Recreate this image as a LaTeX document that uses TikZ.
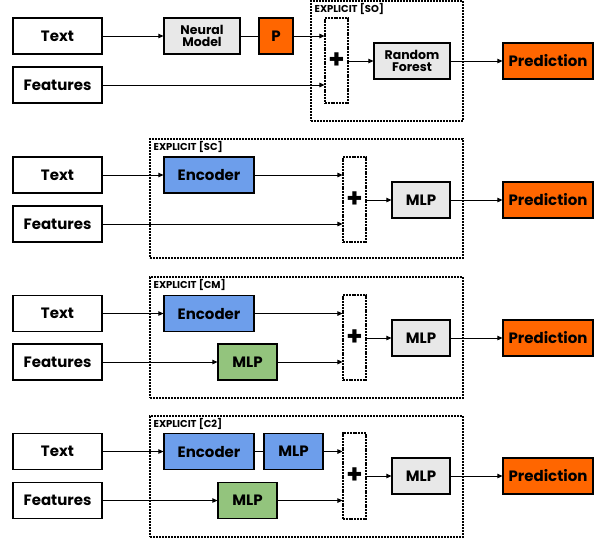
\documentclass[tikz,border=0pt]{standalone}
\usepackage{fontspec}
\setmainfont{Poppins}
\usetikzlibrary{arrows.meta}
\definecolor{orng}{HTML}{FF6600}
\definecolor{blu}{HTML}{6D9EEB}
\definecolor{grn}{HTML}{93C47D}
\definecolor{gry}{HTML}{E8E8E8}
\begin{document}
\begin{tikzpicture}[x=1pt,y=-1pt,
  box/.style={draw, line width=1.2pt, inner sep=0pt, minimum height=36, font=\fontsize{15}{15}\selectfont\bfseries, align=center},
  smallbox/.style={box, font=\fontsize{12.5}{12}\selectfont\bfseries},
  group/.style={draw, line width=1.1pt, dash pattern=on 2pt off 1pt, inner sep=0pt},
  plusbox/.style={draw, line width=1.1pt, dash pattern=on 2pt off 0.8pt, inner sep=0pt, minimum width=23, font=\fontsize{26}{26}\selectfont\bfseries},
  glabel/.style={anchor=north west, inner sep=0pt, font=\fontsize{10}{10}\selectfont\bfseries},
  arr/.style={-{Triangle[length=5pt,width=4.5pt]}, line width=0.9pt},
  ln/.style={line width=0.9pt}]
\useasboundingbox (0,0) rectangle (601,539);

% ---------- Panel 1 ----------
\node[group, minimum width=152, minimum height=120] (s1) at (387,61) {};
\node[glabel] (l1) at ([xshift=4pt,yshift=-3pt]s1.north west) {EXPLICIT [SO]};
\node[box, minimum width=89] (t1) at (57.5,36) {Text};
\node[box, minimum width=89] (f1) at (57.5,85) {Features};
\node[smallbox, fill=gry, minimum width=76] (nm) at (202,36) {Neural\\Model};
\node[box, fill=orng, minimum width=34] (p) at (276,36) {P};
\node[plusbox, minimum height=85] (plus1) at (336.5,60.5) {+};
\node[smallbox, fill=gry, minimum width=76] (rf) at (412,61) {Random\\Forest};
\node[box, fill=orng, minimum width=90] (pr1) at (548,61) {Prediction};
\draw[arr] (t1) -- (nm);
\draw[ln] (nm) -- (p);
\draw[arr] (p.east) -- (p.east -| plus1.west);
\draw[arr] (f1.east) -- (f1.east -| plus1.west);
\draw[arr] (plus1.east |- rf.west) -- (rf.west);
\draw[arr] (rf) -- (pr1);

% ---------- Panel 2 ----------
\node[group, minimum width=313, minimum height=119] (s2) at (306.5,198.5) {};
\node[glabel] (l2) at ([xshift=4pt,yshift=-3pt]s2.north west) {EXPLICIT [SC]};
\node[box, minimum width=89] (t2) at (57.5,175) {Text};
\node[box, minimum width=89] (f2) at (57.5,224) {Features};
\node[box, fill=blu, minimum width=90] (enc2) at (209,175) {Encoder};
\node[plusbox, minimum height=85] (plus2) at (354.5,199.5) {+};
\node[box, fill=gry, minimum width=58] (mlp2) at (421,200) {MLP};
\node[box, fill=orng, minimum width=90] (pr2) at (548,200) {Prediction};
\draw[arr] (t2) -- (enc2);
\draw[arr] (enc2.east) -- (enc2.east -| plus2.west);
\draw[arr] (f2.east) -- (f2.east -| plus2.west);
\draw[arr] (plus2.east |- mlp2.west) -- (mlp2.west);
\draw[arr] (mlp2) -- (pr2);

% ---------- Panel 3 ----------
\node[group, minimum width=313, minimum height=121] (s3) at (306.5,337.5) {};
\node[glabel] (l3) at ([xshift=4pt,yshift=-3pt]s3.north west) {EXPLICIT [CM]};
\node[box, minimum width=89] (t3) at (57.5,313.5) {Text};
\node[box, minimum width=89] (f3) at (57.5,362) {Features};
\node[box, fill=blu, minimum width=90] (enc3) at (209,313.5) {Encoder};
\node[box, fill=grn, minimum width=59] (mg3) at (247.5,362) {MLP};
\node[plusbox, minimum height=85] (plus3) at (354.5,337.5) {+};
\node[box, fill=gry, minimum width=58] (mlp3) at (421,338) {MLP};
\node[box, fill=orng, minimum width=90] (pr3) at (548,338) {Prediction};
\draw[arr] (t3) -- (enc3);
\draw[arr] (enc3.east) -- (enc3.east -| plus3.west);
\draw[arr] (f3) -- (mg3);
\draw[arr] (mg3.east) -- (mg3.east -| plus3.west);
\draw[arr] (plus3.east |- mlp3.west) -- (mlp3.west);
\draw[arr] (mlp3) -- (pr3);

% ---------- Panel 4 ----------
\node[group, minimum width=313, minimum height=121] (s4) at (306.5,476.5) {};
\node[glabel] (l4) at ([xshift=4pt,yshift=-3pt]s4.north west) {EXPLICIT [C2]};
\node[box, minimum width=89] (t4) at (57.5,451.5) {Text};
\node[box, minimum width=89] (f4) at (57.5,500.5) {Features};
\node[box, fill=blu, minimum width=90] (enc4) at (209,451.5) {Encoder};
\node[box, fill=blu, minimum width=59] (mb4) at (293.5,451.5) {MLP};
\node[box, fill=grn, minimum width=59] (mg4) at (247.5,500.5) {MLP};
\node[plusbox, minimum height=86] (plus4) at (354.5,476) {+};
\node[box, fill=gry, minimum width=58] (mlp4) at (421,476) {MLP};
\node[box, fill=orng, minimum width=90] (pr4) at (548,476) {Prediction};
\draw[arr] (t4) -- (enc4);
\draw[ln] (enc4) -- (mb4);
\draw[arr] (mb4.east) -- (mb4.east -| plus4.west);
\draw[arr] (f4) -- (mg4);
\draw[arr] (mg4.east) -- (mg4.east -| plus4.west);
\draw[arr] (plus4.east |- mlp4.west) -- (mlp4.west);
\draw[arr] (mlp4) -- (pr4);
\end{tikzpicture}
\end{document}
